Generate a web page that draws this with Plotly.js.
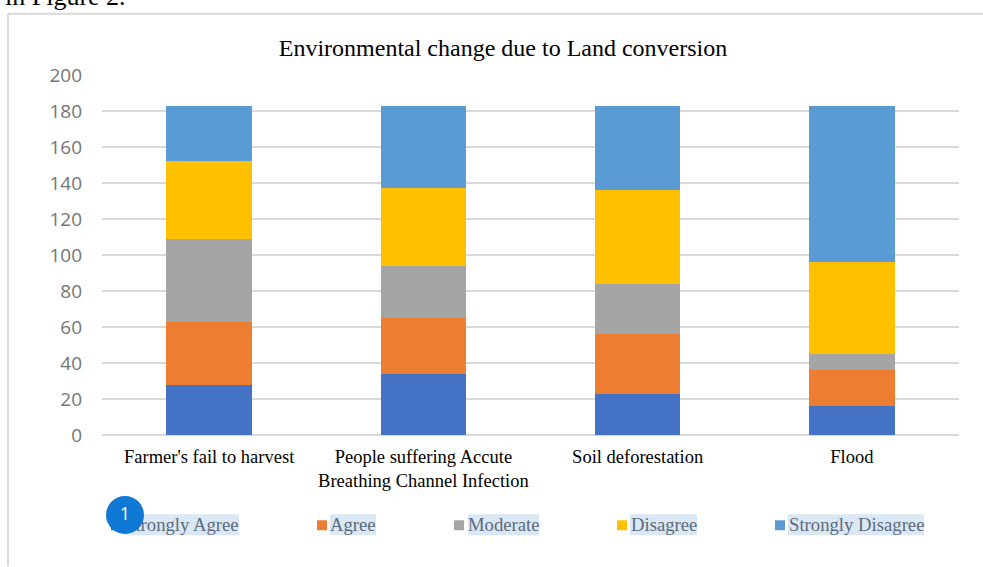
<!DOCTYPE html>
<html>
<head>
<meta charset="utf-8">
<script src="https://cdn.plot.ly/plotly-3.0.1.min.js"></script>
<style>
html,body{margin:0;padding:0;background:#fff;overflow:hidden}
#wrap{position:relative;width:983px;height:567px}
#chart{width:983px;height:567px}
#badge{position:absolute;left:106px;top:496px;width:38px;height:38px;border-radius:50%;background:#0f78d4;color:#fff;font:18px/35px "Open Sans",sans-serif;text-align:center}
</style>
</head>
<body>
<div id="wrap"><div id="chart"></div><div id="badge">1</div></div>
<script>
const categories = ["Farmer's fail to harvest", "People suffering Accute<br>Breathing Channel Infection", "Soil deforestation", "Flood"];
const seriesNames = ["Strongly Agree", "Agree", "Moderate", "Disagree", "Strongly Disagree"];
const stronglyAgree = [28, 34, 23, 16];
const agree = [35, 31, 33, 20];
const moderate = [46, 29, 28, 9];
const disagree = [43, 43, 52, 51];
const stronglyDisagree = [31, 46, 47, 87];
const colors = ["#4472c4", "#ed7d31", "#a5a5a5", "#ffc000", "#5b9bd5"];
const yTicks = [0, 20, 40, 60, 80, 100, 120, 140, 160, 180, 200];

const W = 983, H = 567, L = 102, R = 24, T = 74.5, B = 131.5;
const px = x => (x - L) / (W - L - R);
const py = y => 1 - (y - T) / (H - T - B);

const values = [stronglyAgree, agree, moderate, disagree, stronglyDisagree];
const traces = seriesNames.map((n, i) => ({
  type: "bar", name: n, x: categories, y: values[i], width: 0.4,
  marker: {color: colors[i], line: {width: 0}}, hoverinfo: "y+name"
}));

const serif = "Liberation Serif, Times New Roman, serif";
const swatchX = [111, 317, 454, 617, 775];
const textBox = [[125, 239], [330, 376], [468, 539], [630, 697], [788, 924]];
const shapes = [
  {type: "line", xref: "paper", yref: "paper", x0: px(8), x1: px(8), y0: py(13), y1: py(567), line: {color: "#d9d9d9", width: 2}},
  {type: "line", xref: "paper", yref: "paper", x0: px(8), x1: px(983), y0: py(13), y1: py(13), line: {color: "#d9d9d9", width: 2}}
];
const annotations = [
  {xref: "paper", yref: "paper", x: px(4), y: py(-20), xanchor: "left", yanchor: "top", showarrow: false,
   text: "in Figure 2.", font: {family: serif, size: 26, color: "#000"}, borderpad: 0}
];
seriesNames.forEach((n, i) => {
  shapes.push({type: "rect", xref: "paper", yref: "paper", x0: px(swatchX[i]), x1: px(swatchX[i] + 10),
    y0: py(531), y1: py(521), fillcolor: colors[i], line: {width: 0}});
  shapes.push({type: "rect", xref: "paper", yref: "paper", x0: px(textBox[i][0]), x1: px(textBox[i][1]),
    y0: py(536), y1: py(515), fillcolor: "#dae8f5", line: {width: 0}, layer: "below"});
  annotations.push({xref: "paper", yref: "paper", x: px((textBox[i][0] + textBox[i][1]) / 2), y: py(525.5),
    xanchor: "center", yanchor: "middle", showarrow: false, text: n, borderpad: 0,
    font: {family: serif, size: 18.7, color: "#5d6b7b"}});
});

const layout = {
  width: W, height: H, barmode: "stack", bargap: 0.6, showlegend: false,
  paper_bgcolor: "#fff", plot_bgcolor: "rgba(0,0,0,0)",
  margin: {l: L, r: R, t: T, b: B, pad: 0},
  title: {text: "Environmental change due to Land conversion", font: {family: serif, size: 24, color: "#000"},
    xref: "container", yref: "container", x: 503 / W, y: 1 - 48 / H, xanchor: "center", yanchor: "middle"},
  xaxis: {type: "category", showgrid: false, zeroline: false, showline: false, ticks: "",
    ticklabelstandoff: 8, tickfont: {family: serif, size: 18.5, color: "#000"}, tickangle: 0, automargin: false},
  yaxis: {range: [0, 200], tickvals: yTicks, ticktext: yTicks.map(String), showgrid: true, gridcolor: "#d9d9d9", gridwidth: 2,
    zeroline: true, zerolinecolor: "#d9d9d9", zerolinewidth: 2, showline: false, ticks: "",
    ticklabelstandoff: 19, tickfont: {family: "Open Sans, sans-serif", size: 19, color: "#757575"}, automargin: false},
  shapes, annotations
};
Plotly.newPlot("chart", traces, layout, {displayModeBar: false, staticPlot: true});
</script>
</body>
</html>
